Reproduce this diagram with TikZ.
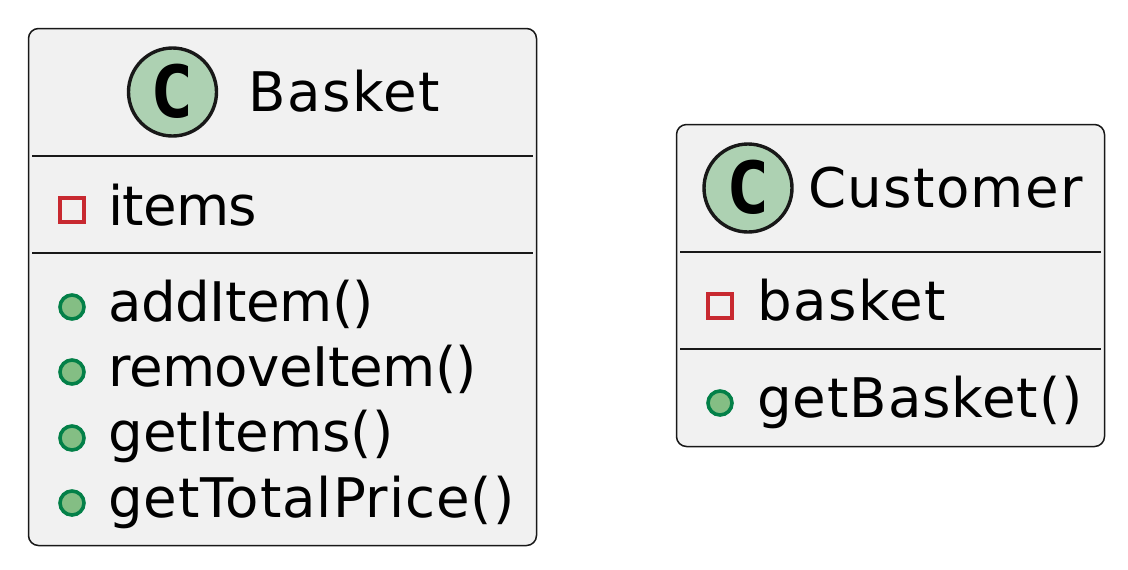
\documentclass[tikz,border=0pt]{standalone}
\usepackage{fontspec}
\setmainfont{DejaVu Sans}
\newfontfamily\spotfont{DejaVu Sans Mono}
\definecolor{boxfill}{HTML}{F1F1F1}
\definecolor{boxline}{HTML}{181818}
\definecolor{spotfill}{HTML}{ADD1B2}
\definecolor{privline}{HTML}{C82930}
\definecolor{publine}{HTML}{038048}
\definecolor{pubfill}{HTML}{84BE84}
\tikzset{
  classbox/.style={draw=boxline,fill=boxfill,line width=0.75pt,rounded corners=5pt,
    inner sep=0pt,outer sep=0pt,anchor=north west},
  sepline/.style={draw=boxline,line width=0.75pt},
  spot/.style={circle,draw=boxline,fill=spotfill,line width=1.7pt,minimum size=44pt,
    inner sep=0pt,outer sep=0pt},
  spotmark/.style={font=\spotfont\bfseries\fontsize{36}{36}\selectfont,inner sep=0pt},
  member/.style={font=\fontsize{27.3}{30}\selectfont\addfontfeature{LetterSpace=#1},
    anchor=base west,inner sep=0pt},
  member/.default=0,
  priv/.style={rectangle,draw=privline,line width=1.8pt,minimum size=12pt,inner sep=0pt},
  pub/.style={circle,draw=publine,fill=pubfill,line width=1.8pt,minimum size=12pt,inner sep=0pt},
}
\begin{document}
\begin{tikzpicture}[x=0.5pt,y=-0.5pt]
  \useasboundingbox (0,0) rectangle (1128,569);
  % Basket
  \node[classbox,minimum width=254pt,minimum height=258.5pt] (basket) at (28.5,28.5) {};
  \node[spot] (basketspot) at (172.5,92) {};
  \node[spotmark] (basketc) at (172.5,91.5) {C};
  \node[member=2.9] (baskettitle) at (248,111) {Basket};
  \coordinate (b1l) at (32,156);
  \coordinate (b1r) at (533,156);
  \coordinate (b2l) at (32,253);
  \coordinate (b2r) at (533,253);
  \draw[sepline] (b1l) -- (b1r);
  \draw[sepline] (b2l) -- (b2r);
  \node[priv] (itemsicon) at (72,210) {};
  \node[member=-1.4] (items) at (108,225) {items};
  \node[pub] (addicon) at (72,307) {};
  \node[member=-0.9] (add) at (108,321.5) {addItem()};
  \node[pub] (removeicon) at (72,372) {};
  \node[member=-0.9] (remove) at (108,386.5) {removeItem()};
  \node[pub] (getitemsicon) at (72,438) {};
  \node[member] (getitems) at (108,451.5) {getItems()};
  \node[pub] (totalicon) at (72,503) {};
  \node[member=1.7] (total) at (108,517) {getTotalPrice()};
  % Customer
  \node[classbox,minimum width=214pt,minimum height=161pt] (customer) at (676.5,124.5) {};
  \node[spot] (customerspot) at (748,188) {};
  \node[spotmark] (customerc) at (748,187.5) {C};
  \node[member=2.35] (customertitle) at (808,207) {Customer};
  \coordinate (c1l) at (680,252);
  \coordinate (c1r) at (1101,252);
  \coordinate (c2l) at (680,349);
  \coordinate (c2r) at (1101,349);
  \draw[sepline] (c1l) -- (c1r);
  \draw[sepline] (c2l) -- (c2r);
  \node[priv] (basketicon) at (720,306) {};
  \node[member=2.6] (basketattr) at (757,320) {basket};
  \node[pub] (getbasketicon) at (720,403) {};
  \node[member=1.65] (getbasket) at (757,417) {getBasket()};
\end{tikzpicture}
\end{document}
